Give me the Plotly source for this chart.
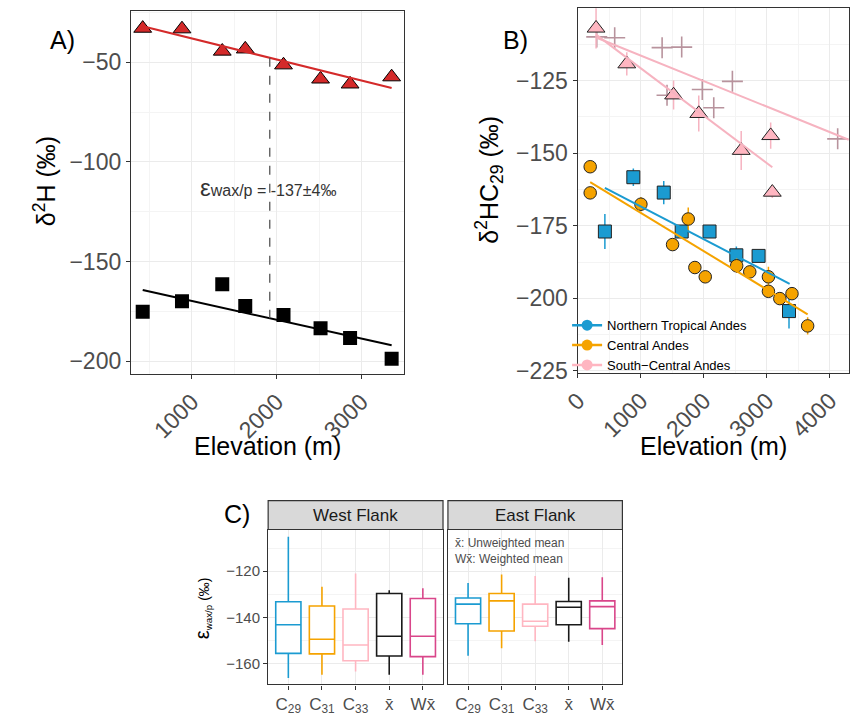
import plotly.graph_objects as go

W, H = 851, 723
FONT = "Liberation Sans, Arial, Helvetica, sans-serif"
TICKC = "#4d4d4d"
BORDER = "#333333"
GRID = "#ebebeb"
GRID_MINOR = "#f4f4f4"

# ---------------- Panel A data ----------------
elev_A = [421, 884, 1359, 1630, 2081, 2518, 2866, 3356]
d2H_precip = [-32.9, -33.2, -44.4, -43.3, -51.3, -58.4, -60.9, -57.3]
d2H_wax = [-175.2, -170.0, -161.4, -172.3, -176.9, -183.5, -188.4, -198.8]
fitA_elev = [421, 3356]
fitA_precip = [-31.8, -62.9]
fitA_wax = [-164.3, -192.1]
eps_elev = [1919, 1919]
eps_span = [-47.7, -178.5]
eps_text_pos = [1898, -112.7]

# ---------------- Panel B data ----------------
nta_elev = [428, 880, 1363, 1648, 2090, 2516, 2869, 3352]
nta_d2H = [-177.0, -158.3, -163.6, -177.0, -177.0, -185.2, -185.4, -204.4]
nta_err = [6.0, 3.0, 4.0, 2.0, 2.0, 3.0, 2.0, 6.0]
nta_fit_elev = [428, 3362]
nta_fit_d2H = [-162.0, -195.0]

ca_elev = [195, 195, 1000, 1752, 1503, 1857, 2022, 2521, 2729, 3025, 3025, 3206, 3399, 3648]
ca_d2H = [-154.7, -163.7, -167.6, -172.7, -181.5, -189.4, -192.6, -188.8, -190.9, -192.6,
          -197.6, -200.1, -198.4, -209.5]
ca_err = [2.0, 2.0, 2.5, 4.0, 2.0, 2.0, 2.0, 2.5, 2.0, 3.5, 2.0, 2.0, 2.0, 3.0]
ca_fit_elev = [195, 3648]
ca_fit_d2H = [-160.0, -205.5]

sca_tri_elev = [288, 776, 1519, 1919, 2593, 3061, 3087]
sca_tri_d2H = [-107.0, -119.3, -130.0, -136.4, -149.1, -144.0, -163.5]
sca_tri_err = [7.0, 4.0, 5.0, 6.2, 6.7, 4.5, 2.0]
sca_tri_fit_elev = [288, 3087]
sca_tri_fit_d2H = [-109.2, -154.9]

sca_crs_elev = [299, 584, 1337, 1648, 1415, 1975, 2157, 2453, 4125]
sca_crs_d2H = [-110.0, -110.3, -113.7, -113.5, -130.1, -128.1, -134.4, -125.3, -145.1]
sca_crs_fit_elev = [299, 4300]
sca_crs_fit_d2H = [-110.3, -145.4]

region_names = ["Northern Tropical Andes", "Central Andes", "South\u2212Central Andes"]

# ---------------- Panel C data ----------------
box_cats = ["C<sub>29</sub>", "C<sub>31</sub>", "C<sub>33</sub>", "x\u0304", "Wx\u0304"]
box_colors = ["#1B9BD1", "#F5A300", "#FFB6C1", "#1a1a1a", "#D9468A"]
west_low = [-166.1, -164.7, -163.3, -164.7, -164.7]
west_q1 = [-155.5, -155.7, -158.7, -156.6, -156.9]
west_med = [-143.1, -149.4, -151.9, -148.1, -148.1]
west_q3 = [-133.2, -135.0, -136.3, -129.6, -131.8]
west_high = [-105.1, -126.7, -121.0, -128.2, -127.4]
east_low = [-156.5, -153.3, -150.2, -150.5, -151.9]
east_q1 = [-142.7, -145.8, -143.8, -143.1, -144.8]
east_med = [-134.2, -132.8, -141.6, -135.6, -135.3]
east_q3 = [-131.6, -129.6, -134.2, -133.1, -132.8]
east_high = [-125.1, -121.4, -122.1, -122.8, -122.6]
facet_names = ["West Flank", "East Flank"]

C_BLUE = "#1B9BD1"
C_ORANGE = "#F5A300"
C_PINK = "#F6B3C0"
C_RED = "#D42A2A"


def fx(p):
    return p / W


def fy(p):
    return 1 - p / H


fig = go.Figure()

# ---------------- Panel A traces ----------------
fig.add_trace(go.Scatter(x=elev_A, y=d2H_precip, mode="markers", xaxis="x", yaxis="y",
                         marker=dict(symbol="triangle-up", size=15.5, color=C_RED,
                                     line=dict(color="black", width=1)), showlegend=False))
fig.add_trace(go.Scatter(x=elev_A, y=d2H_wax, mode="markers", xaxis="x", yaxis="y",
                         marker=dict(symbol="square", size=14, color="black"), showlegend=False))
fig.add_trace(go.Scatter(x=fitA_elev, y=fitA_precip, mode="lines", xaxis="x", yaxis="y",
                         line=dict(color=C_RED, width=2), showlegend=False))
fig.add_trace(go.Scatter(x=fitA_elev, y=fitA_wax, mode="lines", xaxis="x", yaxis="y",
                         line=dict(color="black", width=2), showlegend=False))
fig.add_trace(go.Scatter(x=eps_elev, y=eps_span, mode="lines", xaxis="x", yaxis="y",
                         line=dict(color="#555555", width=1.3, dash="dash"), showlegend=False))

# ---------------- Panel B traces ----------------
fig.add_trace(go.Scatter(x=sca_crs_elev, y=sca_crs_d2H, mode="markers", xaxis="x2", yaxis="y2",
                         marker=dict(symbol="cross-thin", size=15,
                                     line=dict(color="#b8939d", width=1.6)), showlegend=False))
fig.add_trace(go.Scatter(x=sca_tri_elev, y=sca_tri_d2H, mode="markers", xaxis="x2", yaxis="y2",
                         error_y=dict(type="data", array=sca_tri_err, color=C_PINK, thickness=1.5, width=0),
                         marker=dict(symbol="triangle-up", size=15.5, color="#FFB6C1",
                                     line=dict(color="#222222", width=1)), showlegend=False))
fig.add_trace(go.Scatter(x=nta_elev, y=nta_d2H, mode="markers", xaxis="x2", yaxis="y2",
                         error_y=dict(type="data", array=nta_err, color=C_BLUE, thickness=1.5, width=0),
                         marker=dict(symbol="square", size=13, color=C_BLUE,
                                     line=dict(color="#222222", width=1)), showlegend=False))
fig.add_trace(go.Scatter(x=ca_elev, y=ca_d2H, mode="markers", xaxis="x2", yaxis="y2",
                         error_y=dict(type="data", array=ca_err, color=C_ORANGE, thickness=1.5, width=0),
                         marker=dict(symbol="circle", size=12.5, color=C_ORANGE,
                                     line=dict(color="#222222", width=1)), showlegend=False))
for fx_, fy_, col in [(sca_tri_fit_elev, sca_tri_fit_d2H, C_PINK),
                      (sca_crs_fit_elev, sca_crs_fit_d2H, C_PINK),
                      (nta_fit_elev, nta_fit_d2H, C_BLUE),
                      (ca_fit_elev, ca_fit_d2H, C_ORANGE)]:
    fig.add_trace(go.Scatter(x=fx_, y=fy_, mode="lines", xaxis="x2", yaxis="y2",
                             line=dict(color=col, width=2), showlegend=False))
# legend entries
for name, col in zip(region_names, [C_BLUE, C_ORANGE, "#FFB6C1"]):
    fig.add_trace(go.Scatter(x=[None], y=[None], mode="lines+markers", xaxis="x2", yaxis="y2",
                             name=name, marker=dict(symbol="circle", size=11, color=col),
                             line=dict(color=col, width=2.5), showlegend=True))

# ---------------- Panel C traces ----------------
for (xa, ya, low, q1, med, q3, high) in [("x3", "y3", west_low, west_q1, west_med, west_q3, west_high),
                                          ("x4", "y4", east_low, east_q1, east_med, east_q3, east_high)]:
    for i, cat in enumerate(box_cats):
        fig.add_trace(go.Box(x=[cat], q1=[q1[i]], median=[med[i]], q3=[q3[i]],
                             lowerfence=[low[i]], upperfence=[high[i]],
                             xaxis=xa, yaxis=ya, width=0.75, whiskerwidth=0,
                             fillcolor="white", line=dict(color=box_colors[i], width=1.6),
                             boxpoints=False, showlegend=False, hoverinfo="skip"))

# ---------------- Axes ----------------
common = dict(showline=True, mirror=True, linecolor=BORDER, linewidth=1.2,
              ticks="outside", ticklen=4, tickcolor=BORDER, tickwidth=1,
              showgrid=True, gridcolor=GRID, gridwidth=1, zeroline=False,
              tickfont=dict(family=FONT, size=23, color=TICKC))

layout = dict(
    width=W, height=H, autosize=False,
    margin=dict(l=0, r=0, t=0, b=0),
    paper_bgcolor="white", plot_bgcolor="white",
    font=dict(family=FONT, color="black"),
    boxmode="overlay",
    xaxis=dict(domain=[fx(118), fx(396)], range=[282, 3502], anchor="y",
               tickvals=[1000, 2000, 3000], tickangle=-45,
               minor=dict(tickvals=[500, 1500, 2500, 3500], showgrid=True,
                          gridcolor=GRID_MINOR, gridwidth=0.7, ticks=""), **common),
    yaxis=dict(domain=[fy(380), fy(11)], range=[-206.6, -24.1], anchor="x",
               tickvals=[-200, -150, -100, -50],
               minor=dict(tickvals=[-175, -125, -75, -25], showgrid=True,
                          gridcolor=GRID_MINOR, gridwidth=0.7, ticks=""), **common),
    xaxis2=dict(domain=[fx(572.7), fx(849.3)], range=[-5, 4310], anchor="y2",
                tickvals=[0, 1000, 2000, 3000, 4000], tickangle=-45,
                minor=dict(tickvals=[500, 1500, 2500, 3500], showgrid=True,
                           gridcolor=GRID_MINOR, gridwidth=0.7, ticks=""), **common),
    yaxis2=dict(domain=[fy(379), fy(8.3)], range=[-225.8, -100.1], anchor="x2",
                tickvals=[-225, -200, -175, -150, -125],
                minor=dict(tickvals=[-212.5, -187.5, -162.5, -137.5, -112.5], showgrid=True,
                           gridcolor=GRID_MINOR, gridwidth=0.7, ticks=""), **common),
)

ccommon = dict(common)
ccommon["tickfont"] = dict(family=FONT, size=15, color=TICKC)
xc = dict(ccommon)
xc["tickfont"] = dict(family=FONT, size=17, color=TICKC)
layout["xaxis3"] = dict(domain=[fx(257.7), fx(435.7)], anchor="y3", type="category",
                        categoryorder="array", categoryarray=box_cats, range=[-0.6, 4.6], **xc)
layout["xaxis4"] = dict(domain=[fx(440.7), fx(618.3)], anchor="y4", type="category",
                        categoryorder="array", categoryarray=box_cats, range=[-0.6, 4.6], **xc)
cminor = dict(tickvals=[-170, -150, -130, -110], showgrid=True, gridcolor=GRID_MINOR,
              gridwidth=0.7, ticks="")
layout["yaxis3"] = dict(domain=[fy(695), fy(537.7)], range=[-168.9, -102], anchor="x3",
                        tickvals=[-160, -140, -120], minor=cminor, **ccommon)
y4 = dict(ccommon)
y4.update(ticks="", showticklabels=False)
layout["yaxis4"] = dict(domain=[fy(695), fy(537.7)], range=[-168.9, -102], anchor="x4",
                        tickvals=[-160, -140, -120], minor=cminor, **y4)

layout["legend"] = dict(x=fx(562), y=fy(315), xanchor="left", yanchor="top",
                        bgcolor="rgba(0,0,0,0)", borderwidth=0,
                        font=dict(family=FONT, size=13, color="black"),
                        itemwidth=30, tracegroupgap=0)
fig.update_layout(**layout)

# ---------------- Strips ----------------
shapes = []
for (x0, x1) in [(257.7, 435.7), (440.7, 618.3)]:
    shapes.append(dict(type="rect", xref="paper", yref="paper", x0=fx(x0), x1=fx(x1),
                       y0=fy(537.7), y1=fy(508.3), fillcolor="#d9d9d9",
                       line=dict(color=BORDER, width=1.2), layer="above"))
fig.update_layout(shapes=shapes)

ann = []


def add_text(text, x, y, size, color="black", angle=0, xanchor="center", yanchor="middle", align="center"):
    ann.append(dict(text=text, x=fx(x), y=fy(y), xref="paper", yref="paper", showarrow=False,
                    font=dict(family=FONT, size=size, color=color), textangle=angle,
                    xanchor=xanchor, yanchor=yanchor, align=align))


add_text("A)", 48, 41, 25)
add_text("B)", 509, 41, 25)
add_text("C)", 226, 522, 25)
add_text("Elevation (m)", 257.5, 453, 25)
add_text("Elevation (m)", 710.8, 453, 25)
add_text("\u03b4<sup>2</sup>H (\u2030)", 30, 183.5, 25, angle=-90)
add_text("\u03b4<sup>2</sup>HC<sub>29</sub> (\u2030)", 483, 182, 25, angle=-90)
add_text("<span style='font-size:20px'>\u03b5</span><sub>wax/p</sub> (\u2030)", 191, 618, 14, angle=-90)
add_text(facet_names[0], 346.7, 523, 17, color="#1a1a1a")
add_text(facet_names[1], 529.5, 523, 17, color="#1a1a1a")
add_text("x\u0304: Unweighted mean<br>Wx\u0304: Weighted mean", 446, 542, 12, color=TICKC,
         xanchor="left", yanchor="top", align="left")

ann.append(dict(text="<span style='font-size:24px'>\u03b5</span>wax/p = -137\u00b14\u2030",
                x=eps_text_pos[0], y=eps_text_pos[1], xref="x", yref="y", showarrow=False,
                font=dict(family=FONT, size=16, color="#333333")))
fig.update_layout(annotations=ann)

fig.write_html("out.html", config={"displayModeBar": False},
               post_script="document.body.style.margin='0px';document.body.style.overflow='hidden';")
